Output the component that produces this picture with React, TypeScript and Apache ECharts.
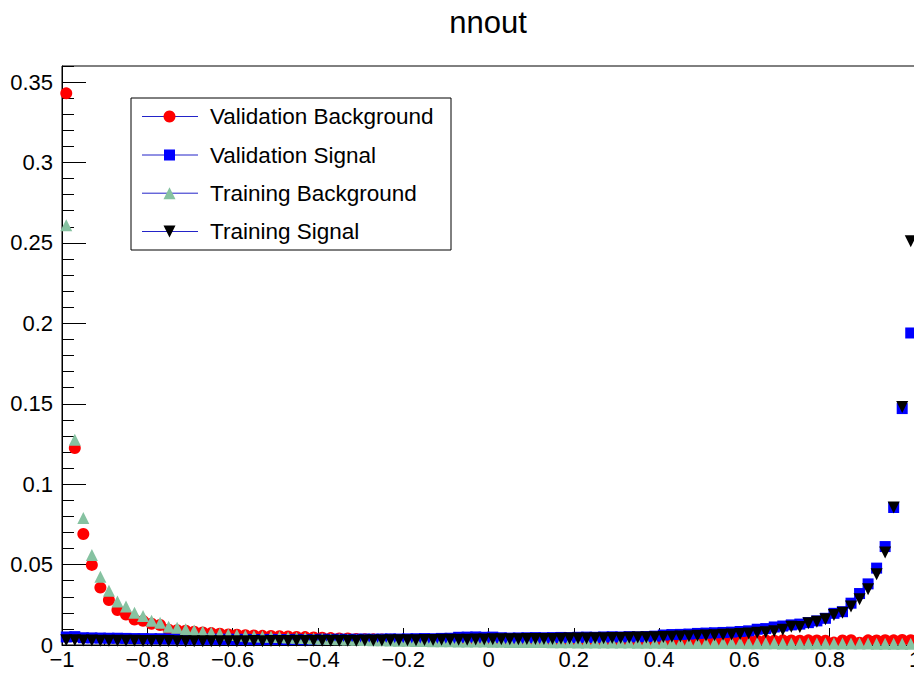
import React, { useEffect, useRef } from "react";
import * as echarts from "echarts";

const TITLE = "nnout";
const SERIES_NAMES = ["Validation Background", "Validation Signal", "Training Background", "Training Signal"];
const X_MIN = -1;
const X_MAX = 1;
const Y_MAX = 0.36;
const N_BINS = 100;
const BIN_CENTERS = Array.from({ length: N_BINS }, (_, i) => Number((X_MIN + (X_MAX - X_MIN) * (i + 0.5) / N_BINS).toFixed(3)));

const VALIDATION_BACKGROUND = [
  0.343, 0.1225, 0.069, 0.0498, 0.0357, 0.028, 0.0218, 0.019, 0.0158, 0.015,
  0.0132, 0.0124, 0.0095, 0.0092, 0.0089, 0.0083, 0.0078, 0.0074, 0.007, 0.0066,
  0.0064, 0.0061, 0.0059, 0.0057, 0.0056, 0.0054, 0.0053, 0.005, 0.0049, 0.0047,
  0.0045, 0.0043, 0.0041, 0.004, 0.0038, 0.0036, 0.0035, 0.0034, 0.0033, 0.0031,
  0.003, 0.003, 0.0029, 0.0028, 0.0028, 0.0027, 0.0026, 0.0026, 0.0025, 0.0025,
  0.0024, 0.0023, 0.0024, 0.0022, 0.0023, 0.0022, 0.0021, 0.0022, 0.0021, 0.002,
  0.0021, 0.002, 0.0021, 0.002, 0.0019, 0.002, 0.0019, 0.002, 0.0019, 0.0019,
  0.002, 0.0021, 0.002, 0.0022, 0.0021, 0.0023, 0.0022, 0.0024, 0.0025, 0.0024,
  0.0026, 0.0027, 0.0028, 0.0027, 0.0029, 0.0028, 0.0027, 0.0029, 0.0028, 0.0027,
  0.0015, 0.0028, 0.003, 0.0014, 0.0029, 0.0028, 0.003, 0.0029, 0.0031, 0.003,
];

const VALIDATION_SIGNAL = [
  0.005, 0.0052, 0.0045, 0.0044, 0.0043, 0.0042, 0.0042, 0.0041, 0.004, 0.004,
  0.0039, 0.0039, 0.0038, 0.0038, 0.0037, 0.0037, 0.0036, 0.0036, 0.0035, 0.0036,
  0.0035, 0.0035, 0.0034, 0.0034, 0.0035, 0.0034, 0.0034, 0.0035, 0.0033, 0.0034,
  0.0036, 0.0035, 0.0036, 0.0035, 0.0036, 0.0037, 0.0036, 0.0037, 0.0038, 0.0037,
  0.0038, 0.0039, 0.004, 0.0039, 0.0041, 0.0042, 0.0048, 0.0049, 0.005, 0.0048,
  0.0049, 0.0045, 0.0043, 0.0044, 0.0045, 0.0046, 0.0045, 0.0046, 0.0047, 0.0046,
  0.0048, 0.0049, 0.0048, 0.005, 0.0051, 0.005, 0.0052, 0.0051, 0.0053, 0.0055,
  0.0062, 0.0065, 0.0066, 0.0068, 0.0072, 0.0074, 0.0076, 0.0078, 0.008, 0.0084,
  0.0088, 0.0098, 0.0102, 0.0112, 0.0118, 0.0125, 0.013, 0.0139, 0.015, 0.0166,
  0.0197, 0.0207, 0.026, 0.032, 0.038, 0.0478, 0.0612, 0.0855, 0.147, 0.194,
];

const TRAINING_BACKGROUND = [
  0.261, 0.1276, 0.079, 0.056, 0.0425, 0.0338, 0.027, 0.0239, 0.0201, 0.018,
  0.0151, 0.0139, 0.0114, 0.0108, 0.0098, 0.009, 0.0082, 0.0076, 0.007, 0.0066,
  0.0062, 0.0058, 0.0055, 0.0053, 0.0051, 0.0049, 0.0047, 0.0045, 0.0043, 0.0041,
  0.0039, 0.0037, 0.0035, 0.0034, 0.0032, 0.0031, 0.003, 0.0029, 0.0028, 0.0027,
  0.0026, 0.0025, 0.0025, 0.0024, 0.0023, 0.0023, 0.0022, 0.0022, 0.0021, 0.0021,
  0.002, 0.002, 0.0019, 0.0019, 0.0018, 0.0018, 0.0018, 0.0017, 0.0017, 0.0017,
  0.0016, 0.0016, 0.0016, 0.0015, 0.0015, 0.0015, 0.0015, 0.0014, 0.0014, 0.0014,
  0.0014, 0.0013, 0.0013, 0.0013, 0.0013, 0.0012, 0.0012, 0.0012, 0.0012, 0.0012,
  0.0011, 0.0011, 0.0011, 0.0011, 0.001, 0.001, 0.001, 0.001, 0.001, 0.001,
  0.0009, 0.0009, 0.0009, 0.0009, 0.0009, 0.0008, 0.0008, 0.0008, 0.0008, 0.0008,
];

const TRAINING_SIGNAL = [
  0.003, 0.0029, 0.0028, 0.0028, 0.0027, 0.0027, 0.0026, 0.0026, 0.0026, 0.0025,
  0.0025, 0.0025, 0.0025, 0.0024, 0.0024, 0.0024, 0.0024, 0.0024, 0.0023, 0.0024,
  0.0024, 0.0024, 0.0025, 0.0024, 0.0025, 0.0025, 0.0025, 0.0026, 0.0025, 0.0026,
  0.0026, 0.0027, 0.0026, 0.0027, 0.0027, 0.0028, 0.0028, 0.0028, 0.0029, 0.0029,
  0.003, 0.003, 0.0031, 0.0031, 0.0032, 0.0032, 0.0033, 0.0033, 0.0034, 0.0034,
  0.0035, 0.0035, 0.0036, 0.0036, 0.0037, 0.0037, 0.0038, 0.0038, 0.0039, 0.004,
  0.004, 0.0041, 0.0042, 0.0042, 0.0043, 0.0044, 0.0045, 0.0046, 0.0047, 0.0048,
  0.005, 0.0052, 0.0053, 0.0055, 0.0057, 0.0059, 0.0061, 0.0063, 0.0066, 0.0068,
  0.0072, 0.0076, 0.008, 0.0086, 0.0095, 0.0114, 0.0112, 0.0135, 0.0145, 0.016,
  0.0187, 0.02, 0.024, 0.0285, 0.0347, 0.044, 0.0575, 0.0855, 0.148, 0.251,
];

const COLORS = ["#ff0000", "#0000ff", "#86c2a1", "#000000"];
const FONT = "'Liberation Sans', Arial, Helvetica, sans-serif";

function pairs(values: number[]) {
  return values.map((v, i) => [BIN_CENTERS[i], v]);
}

function legendGraphic() {
  const x0 = 131, y0 = 98, w = 320, h = 152;
  const rows = [116.5, 155, 193.2, 231.5];
  const lx1 = 142, lx2 = 198, mx = 169.5;
  const children: any[] = [
    { type: "rect", shape: { x: x0, y: y0, width: w, height: h }, style: { fill: "#fff", stroke: "#000", lineWidth: 1 } },
  ];
  rows.forEach((ry, k) => {
    children.push({ type: "line", shape: { x1: lx1, y1: ry, x2: lx2, y2: ry }, style: { stroke: "#2323c8", lineWidth: 1 } });
    if (k === 0) children.push({ type: "circle", shape: { cx: mx, cy: ry, r: 6 }, style: { fill: COLORS[0] } });
    if (k === 1) children.push({ type: "rect", shape: { x: mx - 5.5, y: ry - 5.5, width: 11, height: 11 }, style: { fill: COLORS[1] } });
    if (k === 2) children.push({ type: "polygon", shape: { points: [[mx, ry - 6], [mx + 6, ry + 6], [mx - 6, ry + 6]] }, style: { fill: COLORS[2] } });
    if (k === 3) children.push({ type: "polygon", shape: { points: [[mx - 6, ry - 6], [mx + 6, ry - 6], [mx, ry + 6]] }, style: { fill: COLORS[3] } });
    children.push({ type: "text", x: 210, y: ry, style: { text: SERIES_NAMES[k], fontSize: 22.5, fontFamily: FONT, fill: "#000", verticalAlign: "middle", align: "left" } });
  });
  return { type: "group", children, z: 100 };
}

export default function App() {
  const ref = useRef<HTMLDivElement>(null);
  useEffect(() => {
    document.body.style.margin = "0";
    const chart = echarts.init(ref.current!, undefined, { renderer: "svg" });
    const minus = (v: number) => String(v).replace("-", "\u2212");
    chart.setOption({
      animation: false,
      backgroundColor: "#fff",
      title: {
        text: TITLE,
        left: 483,
        top: 2,
        textAlign: "center",
        textStyle: { fontSize: 31, fontWeight: "normal", color: "#000", fontFamily: FONT },
      },
      grid: {
        left: 62, right: -1, top: 66, bottom: 28,
        outerBoundsMode: "none",
        containLabel: false,
        show: true, borderColor: "#000", borderWidth: 1, backgroundColor: "transparent",
      },
      xAxis: {
        type: "value",
        min: X_MIN,
        max: X_MAX,
        interval: 0.2,
        axisLine: { show: true, onZero: false, lineStyle: { color: "#000", width: 1 } },
        axisTick: { show: true, inside: true, length: 17, lineStyle: { color: "#000" } },
        minorTick: { show: true, splitNumber: 4, length: 9, lineStyle: { color: "#000" } },
        axisLabel: { fontSize: 22, color: "#000", fontFamily: FONT, margin: 3, formatter: minus, hideOverlap: false },
        splitLine: { show: false },
      },
      yAxis: [
        {
          type: "value",
          min: 0,
          max: Y_MAX,
          interval: 0.05,
          position: "left",
          axisLine: { show: true, onZero: false, lineStyle: { color: "#000", width: 1 } },
          axisTick: { show: true, inside: true, length: 24, lineStyle: { color: "#000" } },
          axisLabel: { fontSize: 22, color: "#000", fontFamily: FONT, margin: 9, showMaxLabel: false, formatter: minus },
          splitLine: { show: false },
        },
        {
          type: "value",
          min: 0,
          max: Y_MAX,
          interval: 0.01,
          position: "left",
          offset: 0,
          axisLine: { show: false, onZero: false },
          axisTick: { show: true, inside: true, length: 12, lineStyle: { color: "#000" } },
          axisLabel: { show: false },
          splitLine: { show: false },
        },
      ],
      series: [
        { name: SERIES_NAMES[0], type: "scatter", data: pairs(VALIDATION_BACKGROUND), symbol: "circle", symbolSize: 12, itemStyle: { color: COLORS[0], opacity: 1 }, z: 2 },
        { name: SERIES_NAMES[1], type: "scatter", data: pairs(VALIDATION_SIGNAL), symbol: "rect", symbolSize: 11, itemStyle: { color: COLORS[1], opacity: 1 }, z: 3 },
        { name: SERIES_NAMES[2], type: "scatter", data: pairs(TRAINING_BACKGROUND), symbol: "triangle", symbolSize: 12, itemStyle: { color: COLORS[2], opacity: 1 }, z: 4 },
        { name: SERIES_NAMES[3], type: "scatter", data: pairs(TRAINING_SIGNAL), symbol: "triangle", symbolRotate: 180, symbolSize: 12, itemStyle: { color: COLORS[3], opacity: 1 }, z: 5 },
      ],
      graphic: [legendGraphic()],
    });
    return () => chart.dispose();
  }, []);
  return <div ref={ref} style={{ width: 914, height: 673 }} />;
}
